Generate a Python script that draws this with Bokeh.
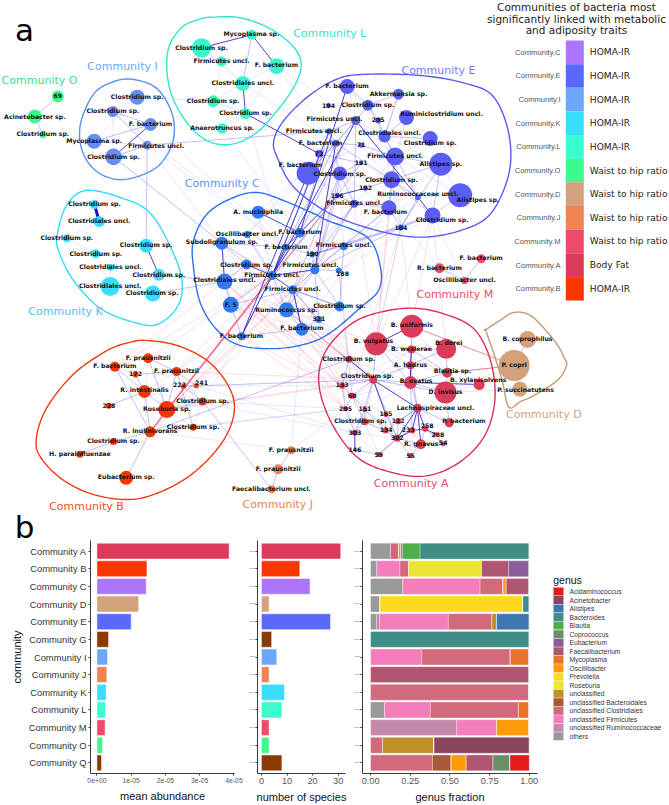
from bokeh.plotting import figure
from bokeh.models import Range1d, FactorRange, ColumnDataSource
from bokeh.layouts import column, row
from bokeh.embed import file_html
from bokeh.resources import INLINE
from bokeh.core.properties import value

# ---------------- panel b data ----------------
communities = ["Community A","Community B","Community C","Community D","Community E","Community G",
               "Community I","Community J","Community K","Community L","Community M","Community O","Community Q"]
bar_colors = ["#dc3a5b","#fa3600","#ab76fb","#d3a17c","#5a69fb","#8c3a04","#6ca7fb","#ef8450","#38dffb",
              "#3bfbd0","#ef4a6c","#3bfb8e","#8c3a04"]
mean_abundance = [3.86e-5,1.46e-5,1.44e-5,1.22e-5,1.0e-5,3.4e-6,3.1e-6,2.9e-6,2.7e-6,2.5e-6,2.4e-6,1.65e-6,1.35e-6]
n_species = [31,15,19,3,27,4,6,3,9,8,3,3,8]

genus_names = ["Acidaminococcus","Acinetobacter","Alistipes","Bacteroides","Blautia","Coprococcus","Eubacterium",
               "Faecalibacterium","Mycoplasma","Oscillibacter","Prevotella","Roseburia","unclassified",
               "unclassified Bacteroidales","unclassified Clostridiales","unclassified Firmicutes",
               "unclassified Ruminococcaceae","others"]
genus_colors = ["#e41a1c","#8c4460","#3f78b0","#3f8e85","#4daf4a","#6a8d6a","#8a5e98","#b05670","#e8732a",
                "#ff9a0a","#ffd91f","#eee532","#c18f26","#a85a38","#d06a7c","#f47ebb","#c48aab","#999999"]
#                 A     B     C     D     E     G   I     J   K   L     M     O     Q
others      = [0.125,0.040,0.204,0.060,0.037,0,  0,    0,  0,  0.088,0,    0,    0]
u_rumino    = [0,    0,    0,    0,    0.019,0,  0,    0,  0,  0,    0.543,0,    0]
u_firm      = [0,    0.145,0.486,0,    0.434,0,  0.323,0,  0,  0.289,0.251,0,    0]
u_clost     = [0.052,0.055,0.145,0,    0.275,0,  0.558,0,  1,  0.555,0,    0.076,0.390]
u_bact      = [0,    0,    0,    0,    0,    0,  0,    0,  0,  0,    0,    0,    0.118]
unclass     = [0,    0,    0,    0,    0.029,0,  0,    0,  0,  0,    0,    0.324,0]
roseburia   = [0,    0.460,0,    0,    0,    0,  0,    0,  0,  0,    0,    0,    0]
prevotella  = [0,    0,    0,    0.900,0,    0,  0,    0,  0,  0,    0,    0,    0]
oscillib    = [0.013,0,    0.020,0,    0,    0,  0,    0,  0,  0,    0.206,0,    0.095]
mycoplasma  = [0,    0,    0,    0,    0,    0,  0.119,0,  0,  0.068,0,    0,    0]
faecali     = [0,    0.170,0.145,0,    0,    0,  0,    1,  0,  0,    0,    0,    0.169]
eubacterium = [0.010,0.130,0,    0,    0,    0,  0,    0,  0,  0,    0,    0,    0]
coprococcus = [0,    0,    0,    0,    0,    0,  0,    0,  0,  0,    0,    0,    0.107]
blautia     = [0.112,0,    0,    0,    0,    0,  0,    0,  0,  0,    0,    0,    0]
bacteroides = [0.688,0,    0,    0.040,0,    1,  0,    0,  0,  0,    0,    0,    0]
alistipes   = [0,    0,    0,    0,    0.206,0,  0,    0,  0,  0,    0,    0,    0]
acinetobact = [0,    0,    0,    0,    0,    0,  0,    0,  0,  0,    0,    0.600,0]
acidamino   = [0,    0,    0,    0,    0,    0,  0,    0,  0,  0,    0,    0,    0.121]
stack_order = [("others",others),("unclassified Ruminococcaceae",u_rumino),("unclassified Firmicutes",u_firm),
               ("unclassified Clostridiales",u_clost),("unclassified Bacteroidales",u_bact),("unclassified",unclass),
               ("Roseburia",roseburia),("Prevotella",prevotella),("Oscillibacter",oscillib),("Mycoplasma",mycoplasma),
               ("Faecalibacterium",faecali),("Eubacterium",eubacterium),("Coprococcus",coprococcus),("Blautia",blautia),
               ("Bacteroides",bacteroides),("Alistipes",alistipes),("Acinetobacter",acinetobact),("Acidaminococcus",acidamino)]

# ---------------- colour key of panel a ----------------
key_names = ["Community.C","Community.E","Community.I","Community.K","Community.L","Community.O",
             "Community.D","Community.J","Community.M","Community.A","Community.B"]
key_traits = ["HOMA-IR","HOMA-IR","HOMA-IR","HOMA-IR","HOMA-IR","Waist to hip ratio","Waist to hip ratio",
              "Waist to hip ratio","Waist to hip ratio","Body Fat","HOMA-IR"]
key_colors = ["#ab76fb","#5a69fb","#6ca7fb","#38dffb","#3bfbd0","#3bfb8e","#d3a17c","#ef8450","#ef4a6c","#dc3a5b","#fa3600"]

# ---------------- network of panel a ----------------
node_fill = {"A":"#dc3a5b","B":"#fa3600","C":"#2f7bf5","D":"#d3a17c","E":"#5a5ef5","I":"#6a8cf5","J":"#ef8450",
             "K":"#38dffb","L":"#3bf5cf","M":"#ef4a6c","O":"#3bfb8e"}
# (origin x, origin y) + rows: x, y, radius, label, label x, label y
net = {
 "O": (0,0,[(172,288,6,"69",172,286),(103,348,7,"Acinetobacter sp.",103,347),(127,403,3.5,"Clostridium sp.",127,398)]),
 "L": (0,0,[(603,142,9.7,"Clostridium sp.",603,141),(754,103,5,"Mycoplasma sp.",753,100),(663,183,5,"Firmicutes uncl.",663,180),
            (828,197,8,"F. bacterium",828,193),(727,249,7.5,"Clostridiales uncl.",727,245),(638,302,6,"Clostridium sp.",638,300),
            (735,339,5.5,"Clostridium sp.",735,336),(665,384,5.3,"Anaerotruncus sp.",665,382)]),
 "I": (0,0,[(410,290,7.5,"Clostridium sp.",410,288),(337,333,5.5,"Clostridium sp.",337,331),(450,372,6.5,"F. bacterium",450,368),
            (281,422,7.5,"Mycoplasma sp.",281,419),(440,434,4.5,"Firmicutes uncl.",467,435),(339,469,8.3,"Clostridium sp.",339,467)]),
 "K": (0,0,[(282,612,4.5,"Clostridium sp.",282,610),(296,663,5.5,"Clostridiales uncl.",296,659),(199,713,4,"Clostridium sp.",199,710),
            (437,736,7,"Clostridium sp.",437,732),(286,760,4.5,"Clostridium sp.",286,759),(330,800,3.5,"Clostridiales uncl.",330,797),
            (475,823,6,"Clostridium sp.",475,821),(329,858,9.5,"Clostridiales uncl.",329,856),(457,879,8,"Clostridium sp.",455,875)]),
 "E": (260,0,[(260,258,7.5,"F. bacterium",260,254),(414,281,5.5,"Akkermansia sp.",414,279),(204,315,2.5,"194",204,314),
            (322,314,5.5,"Clostridium sp.",322,311),(286,360,4.5,"Firmicutes uncl.",222,354),(353,360,3,"205",353,358),
            (438,351,7.5,"Ruminiclostridium uncl.",543,340),(206,392,3,"Firmicutes uncl.",160,390),(372,408,6,"Clostridiales uncl.",387,397),
            (509,414,7.5,"Clostridium sp.",509,426),(226,428,3.5,"F. bacterium",180,427),(302,434,2.5,"71",302,433),
            (176,460,4,"72",176,459),(404,468,9,"Firmicutes uncl.",404,465),(541,491,11.5,"Alistipes sp.",541,488),
            (302,488,2,"191",302,487),(143,518,11.5,"F. bacterium",120,491),(238,519,7,"Clostridium sp.",238,518),
            (393,538,8.5,"Clostridium sp.",393,536),(315,563,2.5,"192",315,562),(230,585,2.5,"196",230,584),
            (472,590,3,"Ruminococcaceae uncl.",472,578),(281,610,4,"Firmicutes uncl.",281,606),(385,622,7.5,"F. bacterium",375,634),
            (599,584,12,"Alistipes sp.",652,598),(516,645,8,"Clostridium sp.",545,658),(421,681,3,"184",421,681)]),
 "C": (0,0,[(773,635,6.5,"A. muciniphila",773,632),(740,702,3.5,"Oscillibacter uncl.",740,698),(898,697,5,"F. bacterium",898,693),
            (664,728,6.5,"Subdoligranulum sp.",664,723),(855,740,3.5,"F. bacterium",857,739),(1030,737,4,"Firmicutes uncl.",1030,733),
            (935,762,3,"190",935,760),(943,808,4.5,"Firmicutes uncl.",930,793),(1015,810,3,"188",1026,819),
            (738,792,5,"Clostridium sp.",738,791),(815,825,4.5,"Firmicutes uncl.",815,821),(672,843,8,"Clostridiales uncl.",672,838),
            (877,868,4.5,"Firmicutes uncl.",877,865),(691,913,8,"F. 5",691,911),(858,928,7.5,"Ruminococcus sp.",858,926),
            (1017,918,5,"Clostridium sp.",1017,915),(955,957,3.5,"321",955,955),(904,986,6.5,"F. bacterium",904,982),
            (723,1007,4,"F. bacterium",723,1004)]),
 "M": (260,0,[(662,775,4.5,"F. bacterium",662,771),(537,803,5,"R. bacterium",537,800),(612,840,3.5,"Oscillibacter uncl.",612,837)]),
 "A": (300,280,[(334,137,11.5,"B. uniformis",334,133),(227,190,11.5,"B. vulgatus",219,179),(437,205,10,"B. dorei",445,186),
            (333,207,4,"B. wexlerae",333,205),(145,236,3.5,"Clostridium sp.",145,233),(330,254,4,"A. hadrus",330,251),
            (440,277,5,"Blautia sp.",456,270),(218,298,4,"Clostridium sp.",200,286),(330,306,6.5,"B. ovatus",347,300),
            (536,312,5.5,"B. xylanisolvens",533,296),(125,316,3,"133",125,312),(435,336,11,"D. invisus",435,333),
            (155,346,3,"60",155,345),(135,385,2.5,"295",135,384),(193,387,2.5,"151",193,385),
            (351,383,4.5,"Lachnospiraceae uncl.",405,382),(256,402,2.5,"165",256,400),(293,422,3,"122",293,421),
            (192,424,3.5,"Clostridium sp.",180,421),(446,427,4.5,"P. bacterium",490,421),(374,445,3,"258",380,434),
            (255,450,3,"134",257,447),(335,450,3,"233",323,447),(405,461,2,"288",412,461),(163,457,3,"303",163,456),
            (290,473,3.5,"302",290,471),(361,491,5,"R. gnavus",362,488),(428,490,2.5,"54",428,487),
            (163,508,1.5,"146",163,508),(235,522,2.5,"59",235,521),(330,526,2.5,"55",330,525)]),
 "D": (300,280,[(681,177,8.5,"B. coprophilus",681,173),(641,255,15.5,"P. copri",641,253),(658,326,7.5,"P. succinatutens",675,328)]),
 "B": (0,250,[(443,323,5,"F. prausnitzii",443,320),(343,349,5,"F. bacterium",343,346),(405,372,3,"172",405,370),
            (528,363,4.5,"F. prausnitzii",528,360),(549,407,2.5,"222",537,403),(587,406,2.5,"241",603,397),
            (432,423,6.5,"R. intestinalis",432,418),(606,453,4,"Clostridium sp.",606,451),(325,466,3,"228",325,464),
            (499,477,8.5,"Roseburia sp.",499,473),(578,530,3.5,"Clostridium sp.",578,527),(449,544,5.5,"R. inulinivorans",449,540),
            (339,573,3.5,"Clostridium sp.",339,571),(238,611,3.5,"H. parainfluenzae",238,610),(377,682,7,"Eubacterium sp.",377,679)]),
 "J": (0,250,[(872,599,4,"F. prausnitzii",872,596),(833,656,5,"F. prausnitzii",833,653),(813,716,4,"Faecalibacterium uncl.",813,713)]),
}

edges_heavy = "K0-K1"
edges_strong = ("L0-L1 L1-L3 L4-L6 K3-K6 E4-E25 E19-E20 E0-C2 L6-E12 I2-I5 A0-A1 A3-A5 A8-A9 A5-A8 A15-A25 A15-A22 A15-A20 "
                "A15-A26 A7-A15 A20-A23 A4-A7 A22-A20 A24-A28 A7-A16 A25-A22 C10-C9 C10-C4 C10-C2 C10-C18 C10-C12 C12-C17 "
                "C3-C11 C0-C2 E4-C10 E7-C10 C7-C10 E16-C18 E10-C7 E20-C4")
edges_mid = ("L1-L4 O0-O1 O1-O2 I1-I2 I1-I4 I3-I2 I5-I4 I4-E7 I4-K3 I5-C3 J0-J1 J1-J2 J2-B7 M1-M2 M0-M2 D0-D1 D1-D2 "
             "E0-E3 E3-E4 E3-E5 E1-E3 E1-E8 E5-E8 E6-E8 E8-E9 E8-E13 E13-E14 E4-E10 E4-E7 E10-E12 E10-E11 E11-E13 E12-E15 "
             "E15-E20 E13-E18 E18-E14 E18-E25 E14-E25 E24-E25 E14-E26 E21-E26 E18-E23 E23-E26 E22-E23 E22-E20 E17-E22 E17-E15 "
             "E16-E17 E17-E20 E19-E18 E16-E10 E25-E26 E21-E13 E18-E21 E4-E22 E7-E17 E4-E16 E10-E18 E7-E10 "
             "E4-C2 E7-C2 E10-C10 E12-C10 E17-C7 E17-C12 E20-C10 E20-C7 E22-C12 E22-C7 E26-C6 E25-C6 E26-C7 E23-C7 "
             "C2-C10 C4-C6 C5-C6 C7-C6 C7-C5 C7-C8 C7-C12 C7-C16 C12-C14 C12-C16 C12-C15 C14-C10 C13-C10 C11-C10 C3-C10 C9-C3 "
             "C17-C14 C17-C12 C17-C16 C18-C10 C18-C17 C18-C13 C13-C11 C1-C10 C3-C4 C15-C7 C15-C12 C5-C15 C11-C9 C14-C7 C13-C12 "
             "A0-A3 A1-A3 A1-A7 A1-A8 A2-A3 A2-A5 A2-A6 A3-A6 A3-A8 A4-A10 A5-A7 A6-A8 A6-A11 A7-A10 A7-A12 A7-A14 A7-A11 A8-A11 "
             "A8-A15 A8-A22 A5-A15 A8-A7 A10-A12 A10-A13 A12-A13 A12-A14 A12-A18 A13-A24 A14-A18 A16-A21 A16-A25 A17-A22 A17-A25 "
             "A18-A24 A18-A21 A21-A25 A22-A25 A25-A26 A25-A29 A25-A30 A26-A30 A26-A20 A15-A19 A15-A17 A15-A21 A20-A27 A23-A27 A26-A27 "
             "A28-A29 A29-A25 A24-A14 A19-A11 A7-A25 A14-A21 "
             "B0-B3 B0-B9 B1-B6 B1-B11 B2-B3 B3-B9 B3-B10 B4-B5 B5-B3 B6-B8 B6-B11 B6-B9 B9-B7 B9-B11 B11-B14 B11-B12 B12-B13 "
             "B2-B6 B7-B4 B5-A7 B11-A4 K8-C11 K6-C11")
edges_faint = ("L2-L5 L3-L4 L3-L6 L4-L5 L5-L6 L6-L7 L4-L7 L0-L4 L0-L2 L2-L4 L5-I0 L3-E4 L3-E10 L7-E7 L4-E10 L6-C4 L7-C2 "
               "I0-I1 I1-I5 I3-I4 I0-I3 I1-C4 I2-C4 I4-C3 K1-K2 K7-K8 K5-K7 K2-K4 K4-K7 K6-K8 I4-C7 "
               "E0-E4 E1-E8 E0-E8 E3-E8 E3-E13 E4-E8 E4-E13 E5-E13 E8-E18 E8-E14 E9-E13 E13-E24 E14-E24 E21-E24 E21-E25 E13-E23 "
               "E13-E26 E18-E26 E16-E18 E16-E22 E16-E20 E11-E18 E11-E16 E17-E18 E17-E23 E15-E18 E10-E22 E12-E17 E6-E13 E6-E18 "
               "E26-C5 E25-C5 E23-C5 E18-C5 E21-C5 E25-C8 E13-C6 E10-C0 E12-C1 E16-C1 E3-C2 E8-C2 E17-C5 E14-C5 "
               "C0-C10 C0-C4 C3-C13 C9-C13 C11-C13 C3-C14 C9-C14 C11-C14 C14-C16 C14-C15 C14-C8 C13-C17 C15-C16 C1-C14 C1-C4 "
               "A1-A6 A0-A6 A0-A5 A1-A5 A4-A8 A4-A12 A5-A6 A6-A15 A9-A11 A7-A18 A7-A24 A10-A24 A12-A16 A12-A25 A14-A25 A16-A17 "
               "A17-A21 A18-A25 A18-A29 A24-A25 A24-A29 A19-A26 A19-A20 A22-A26 A15-A23 A15-A30 A3-A7 A3-A10 A5-A12 A8-A12 A8-A14 "
               "B0-B1 B0-B6 B1-B2 B3-B6 B3-B7 B7-B10 B9-B10 B11-J0 B6-A24 B4-A10 B7-A13 J0-A13 B5-A24 B10-A13 B11-A13 C17-A4 "
               "C14-A4 C15-A4 C8-A4 E26-A1 E26-A13 E23-M1 E25-M2 C17-J0 B7-C18 C8-A12")
edges_red = "A0-D1 A6-D1 B9-C10 B11-C10 B11-E20 C14-A7"
edges_pink = ("A6-D1 A11-D1 A9-D1 A11-D2 B0-C10 B1-C9 B1-C10 B3-C10 B3-C12 B9-C12 B9-C7 B9-E20 B11-C12 B11-C14 B11-E22 C13-A4 C13-A7 C13-A10 "
              "C11-A10 C11-A12 C18-A12 C14-A1 C17-A1 C12-A4 C10-A7 C15-A1 C17-A4 C17-A10 C12-A7 C14-A10 E25-A1 E25-A0 E22-A1 "
              "E23-A1 E26-A1 E26-A0 E25-A2 E13-A1 E20-C14 E22-C14 C13-A13 C18-A13 C11-A13 C3-A13 C10-A12 E23-C17 B9-A7 B3-A7 B9-A10")

hull_pts = {
 "L": ("#2de8c8",[(640,50),(720,52),(810,85),(880,140),(902,195),(880,260),(830,330),(770,395),(700,430),(630,425),(570,380),(520,300),(500,220),(505,140),(545,80),(600,55)],3,0,0),
 "I": ("#5a90f0",[(400,237),(470,265),(515,340),(518,420),(480,490),(420,525),(350,537),(285,510),(245,450),(240,370),(280,280),(340,243)],3,0,0),
 "K": ("#2fdcf8",[(85,190),(120,197),(150,213),(173,253),(181.7,283),(176.7,306.7),(156.7,324),(133,321.7),(100,308),(73,280),(58,250),(57,233),(66,205)],1,0,0),
 "C": ("#2a70f0",[(193,240),(207,213),(233,197),(257,192),(283,200),(313,213),(327,220),(367,237),(380,267),(378,290),(360,307),(333,330),(310,342),(277,348),(240,345),(217,330),(200,303),(193,267)],1,0,0),
 "E": ("#5a5cf0",[(300,222),(480,225),(620,250),(700,290),(745,400),(745,520),(690,640),(600,690),(480,710),(350,690),(210,640),(100,560),(50,470),(40,420),(70,360),(140,290),(220,240)],3,260,0),
 "A": ("#d83058",[(335,83),(430,100),(520,145),(570,240),(583,360),(550,470),(470,550),(370,587),(260,572),(170,530),(100,440),(60,340),(58,260),(90,190),(160,125),(240,95)],3,300,280),
 "D": ("#c89870",[(555,148),(598,120),(640,96),(690,105),(745,160),(775,200),(790,230),(798,255),(770,300),(700,345),(660,363),(625,380),(605,300),(580,220),(565,176),(555,148)],3,300,280),
 "B": ("#f03a10",[(440,270),(530,285),(620,330),(680,400),(702,470),(680,550),(620,630),(530,700),(410,745),(290,735),(190,690),(120,620),(108,560),(140,470),(220,370),(320,300),(390,275)],3,0,250),
}
community_labels = [("Community O",39,80,"#3bdc8e"),("Community I",122,65.7,"#6ca7fb"),("Community L",329.3,33.3,"#3be0c8"),
                    ("Community E",438,69.7,"#7a78fb"),("Community C",221.7,183,"#5a96fb"),("Community K",65,311,"#45c8e8"),
                    ("Community M",454.3,294,"#ef4a6c"),("Community D",543.3,414.3,"#d3a17c"),("Community A",410.7,483,"#e64f70"),
                    ("Community J",277.3,504,"#ef8450"),("Community B",86,505.7,"#fa4a20")]

TOP_H = 548      # the network figure runs under the lower row so that it can hold the letter b
ROW_Y = 505      # where the transparent lower row begins
W = 669

def smooth_closed(pts, n=14):
    xs, ys = [], []
    m = len(pts)
    for i in range(m):
        p0, p1, p2, p3 = pts[(i-1) % m], pts[i], pts[(i+1) % m], pts[(i+2) % m]
        for k in range(n):
            t = k / n
            f = lambda a, b, c, d: 0.5*((2*b)+(-a+c)*t+(2*a-5*b+4*c-d)*t*t+(-a+3*b-3*c+d)*t*t*t)
            xs.append(f(p0[0], p1[0], p2[0], p3[0]))
            ys.append(f(p0[1], p1[1], p2[1], p3[1]))
    xs.append(xs[0]); ys.append(ys[0])
    return xs, ys

def screen_fig(w, h, x0, x1, y0, y1, **kw):
    f = figure(width=w, height=h, x_range=Range1d(x0, x1), y_range=Range1d(y1, y0), output_backend="svg",
               toolbar_location=None, min_border=0, outline_line_color=None, background_fill_color=None,
               border_fill_color=None, **kw)
    f.axis.visible = False
    f.grid.visible = False
    return f

top = screen_fig(W, TOP_H, 0, W, 0, TOP_H)

pos = {}
nx, ny, nr, nc, lx, ly, lt = [], [], [], [], [], [], []
for com, (ox, oy, rows) in net.items():
    for i, (x, y, r, label, tx, ty) in enumerate(rows):
        X, Y = ox + x/3, oy + y/3
        pos[f"{com}{i}"] = (X, Y)
        nx.append(X); ny.append(Y); nr.append(2*r); nc.append(node_fill[com])
        lx.append(ox + tx/3); ly.append(oy + ty/3); lt.append(label)

def draw_edges(spec, color, alpha, width):
    xs, ys = [], []
    for e in spec.split():
        a, b = e.split("-")
        xs.append([pos[a][0], pos[b][0]]); ys.append([pos[a][1], pos[b][1]])
    top.multi_line(xs, ys, line_color=color, line_alpha=alpha, line_width=width)

draw_edges(edges_pink, "#f46a88", 0.28, 0.8)
draw_edges(edges_faint, "#5a50e0", 0.20, 0.7)
draw_edges(edges_mid, "#4a40e0", 0.42, 0.8)
draw_edges(edges_red, "#ee2d55", 0.7, 0.8)
draw_edges(edges_strong, "#2a1fc8", 0.85, 1.0)
draw_edges(edges_heavy, "#1a10c0", 1.0, 3.0)

for com, (col, pts, scale, ox, oy) in hull_pts.items():
    P = [(ox + x/scale, oy + y/scale) for x, y in pts]
    hx, hy = smooth_closed(P)
    top.line(hx, hy, line_color=col, line_width=1.4)

top.scatter(nx, ny, size=nr, fill_color=nc, line_color=None)
top.text(lx, ly, text=lt, text_font=value("DejaVu Sans"), text_font_style="bold", text_font_size="6.2px",
         text_align="center", text_baseline="middle", text_color="#111111")

top.text([c[1] for c in community_labels], [c[2] for c in community_labels], text=[c[0] for c in community_labels],
         text_color=[c[3] for c in community_labels], text_font=value("DejaVu Sans"), text_font_size="11px",
         text_align="center", text_baseline="middle")
top.text([24, 24], [29, 526], text=["a", "b"], text_font=value("DejaVu Sans"), text_font_size="31px", text_align="center",
         text_baseline="middle", text_color="black")

# colour key
key_y = [40 + 23.64*(i + 0.5) for i in range(len(key_names))]
top.rect([574.3]*len(key_y), key_y, width=18, height=23.64, fill_color=key_colors, line_color=None)
top.text([560]*len(key_y), key_y, text=key_names, text_font=value("Liberation Sans"), text_font_size="7.6px",
         text_align="right", text_baseline="middle", text_color="#555555")
top.text([589.3]*len(key_y), key_y, text=key_traits, text_font=value("DejaVu Sans"), text_font_size="9.1px",
         text_align="left", text_baseline="middle", text_color="#222222")
title_lines = ["Communities of bacteria most", "significantly linked with metabolic", "and adiposity traits"]
top.text([576]*3, [6.5, 18, 29.7], text=title_lines, text_font=value("DejaVu Sans"), text_font_size="10.5px",
         text_align="center", text_baseline="middle", text_color="#222222")

# ---------------- panel b ----------------
factors = list(reversed(communities))
B_H = 805 - ROW_Y
B_TOP = 540 - ROW_Y

def bar_fig(w, left, right, xr, ylab=False):
    f = figure(width=w, height=B_H, x_range=Range1d(*xr),
               y_range=FactorRange(factors=factors, range_padding=0.2/13), output_backend="svg", toolbar_location=None,
               min_border_left=left, min_border_right=right, min_border_top=B_TOP, min_border_bottom=32,
               outline_line_color=None, background_fill_color=None, border_fill_color=None)
    f.grid.visible = False
    for ax in (f.xaxis[0], f.yaxis[0]):
        ax.axis_line_color = "#3a3a3a"; ax.axis_line_width = 1.0
        ax.major_tick_line_color = "#3a3a3a"; ax.major_tick_out = 2; ax.major_tick_in = 0
        ax.minor_tick_line_color = None
        ax.major_label_text_font = "Liberation Sans"
        ax.axis_label_text_font = "Liberation Sans"
        ax.axis_label_text_font_style = "normal"
        ax.axis_label_text_color = "#111111"
        ax.axis_label_text_font_size = "11px"
        ax.axis_label_standoff = 4
        ax.major_label_standoff = 2
    f.xaxis[0].major_label_text_color = "#555555"
    f.yaxis[0].major_label_text_color = "#333333"
    f.yaxis[0].major_label_text_font_size = "9.4px"
    if ylab:
        f.yaxis[0].axis_label = "community"
        f.yaxis[0].axis_label_standoff = 3
    else:
        f.yaxis[0].major_label_overrides = {c: " " for c in factors}
        f.yaxis[0].major_label_standoff = 0
        f.yaxis[0].major_label_text_font_size = "1px"
    return f

b1 = bar_fig(246, 90, 12, (-1.87e-6, 4.015e-5), ylab=True)
b1.hbar(y=communities, right=mean_abundance, left=0, height=0.9, fill_color=bar_colors, line_color="white", line_width=0.5)
b1.xaxis[0].ticker = [0, 1e-5, 2e-5, 3e-5, 4e-5]
b1.xaxis[0].major_label_overrides = {0:"0e+00", 1e-5:"1e-05", 2e-5:"2e-05", 3e-5:"3e-05", 4e-5:"4e-05"}
b1.xaxis[0].major_label_text_font_size = "6.8px"
b1.xaxis[0].axis_label = "mean abundance"

b2 = bar_fig(105, 3, 6, (-1.54, 32.86))
b2.hbar(y=communities, right=n_species, left=0, height=0.9, fill_color=bar_colors, line_color="white", line_width=0.5)
b2.xaxis[0].ticker = [0, 10, 20, 30]
b2.xaxis[0].major_label_text_font_size = "9.2px"
b2.xaxis[0].axis_label = "number of species"

b3 = bar_fig(194, 7, 8, (-0.051, 1.052))
src = ColumnDataSource({"y": communities, **{n: v for n, v in stack_order}})
color_of = dict(zip(genus_names, genus_colors))
b3.hbar_stack([n for n, _ in stack_order], y="y", height=0.9, source=src, color=[color_of[n] for n, _ in stack_order],
              line_color="white", line_width=0.3)
b3.xaxis[0].ticker = [0, 0.25, 0.5, 0.75, 1.0]
b3.xaxis[0].major_label_overrides = {0:"0.00", 0.25:"0.25", 0.5:"0.50", 0.75:"0.75", 1.0:"1.00"}
b3.xaxis[0].major_label_text_font_size = "9.2px"
b3.xaxis[0].axis_label = "genus fraction"

leg = screen_fig(124, B_H, 545, 669, ROW_Y, 805)
leg_y = [570.7 + 10.97*i for i in range(len(genus_names))]
leg.rect([558]*len(leg_y), leg_y, width=10, height=10.3, fill_color=genus_colors, line_color=None)
leg.text([569]*len(leg_y), leg_y, text=genus_names, text_font=value("Liberation Sans"), text_font_size="6.7px",
         text_align="left", text_baseline="middle", text_color="#333333")
leg.text([552.7], [556], text=["genus"], text_font=value("Liberation Sans"), text_font_size="10.5px",
         text_align="left", text_baseline="middle", text_color="#111111")

layout = column(top, row(b1, b2, b3, leg, spacing=0, margin=(ROW_Y - TOP_H, 0, 0, 0)), spacing=0)
open("out.html", "w").write(file_html(layout, INLINE))
